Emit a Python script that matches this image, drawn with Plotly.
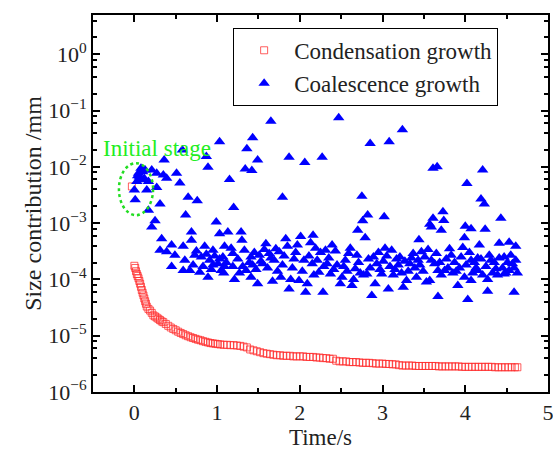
import plotly.graph_objects as go

# ---- Condensation growth (red open squares) ----
cond_t = [-0.03,
    0.00, 0.01, 0.02, 0.03, 0.04, 0.05, 0.06, 0.07, 0.08, 0.09,
    0.10, 0.11, 0.12, 0.13, 0.14, 0.15, 0.17, 0.19, 0.21, 0.23,
    0.25, 0.27, 0.29, 0.31, 0.33, 0.35, 0.38, 0.41, 0.44, 0.47,
    0.50, 0.53, 0.56, 0.59, 0.62, 0.65, 0.68, 0.71, 0.74, 0.77,
    0.80, 0.83, 0.86, 0.89, 0.92, 0.95, 0.98, 1.01, 1.04, 1.08,
    1.12, 1.16, 1.20, 1.24, 1.28, 1.32, 1.36, 1.40, 1.44, 1.48,
    1.52, 1.56, 1.60, 1.64, 1.68, 1.72, 1.76, 1.80, 1.84, 1.88,
    1.92, 1.96, 2.00, 2.04, 2.08, 2.12, 2.16, 2.20, 2.24, 2.28,
    2.32, 2.36, 2.40, 2.44, 2.48, 2.52, 2.56, 2.60, 2.64, 2.68,
    2.72, 2.76, 2.80, 2.84, 2.88, 2.92, 2.96, 3.00, 3.04, 3.08,
    3.12, 3.16, 3.20, 3.24, 3.28, 3.32, 3.36, 3.40, 3.44, 3.48,
    3.52, 3.56, 3.60, 3.64, 3.68, 3.72, 3.76, 3.80, 3.84, 3.88,
    3.92, 3.96, 4.00, 4.04, 4.08, 4.12, 4.16, 4.20, 4.24, 4.28,
    4.32, 4.36, 4.40, 4.44, 4.48, 4.52, 4.56, 4.60, 4.63]
cond_y = [4.5e-3,
    1.75e-4, 1.60e-4, 1.40e-4, 1.25e-4, 1.15e-4, 1.05e-4, 9.4e-5, 8.4e-5, 7.4e-5, 6.5e-5,
    5.8e-5, 5.2e-5, 4.6e-5, 4.1e-5, 3.7e-5, 3.3e-5, 3.0e-5, 2.8e-5, 2.55e-5, 2.3e-5,
    2.2e-5, 2.1e-5, 2.0e-5, 1.9e-5, 1.8e-5, 1.74e-5, 1.62e-5, 1.5e-5, 1.4e-5, 1.32e-5,
    1.25e-5, 1.18e-5, 1.12e-5, 1.07e-5, 1.02e-5, 9.8e-6, 9.4e-6, 9.1e-6, 8.8e-6, 8.5e-6,
    8.3e-6, 8.0e-6, 7.8e-6, 7.6e-6, 7.4e-6, 7.3e-6, 7.2e-6, 7.1e-6, 7.0e-6, 6.9e-6,
    6.9e-6, 6.8e-6, 6.8e-6, 6.7e-6, 6.6e-6, 6.4e-6, 6.2e-6, 5.7e-6, 5.5e-6, 5.3e-6,
    5.1e-6, 4.9e-6, 4.8e-6, 4.7e-6, 4.6e-6, 4.5e-6, 4.5e-6, 4.4e-6, 4.4e-6, 4.4e-6,
    4.3e-6, 4.3e-6, 4.3e-6, 4.3e-6, 4.2e-6, 4.2e-6, 4.2e-6, 4.1e-6, 4.1e-6, 4.0e-6,
    4.0e-6, 3.9e-6, 3.9e-6, 3.6e-6, 3.5e-6, 3.5e-6, 3.5e-6, 3.4e-6, 3.4e-6, 3.4e-6,
    3.35e-6, 3.3e-6, 3.3e-6, 3.3e-6, 3.25e-6, 3.2e-6, 3.2e-6, 3.2e-6, 3.15e-6, 3.15e-6,
    3.1e-6, 3.1e-6, 3.0e-6, 2.95e-6, 2.95e-6, 2.95e-6, 2.95e-6, 2.9e-6, 2.9e-6, 2.9e-6,
    2.9e-6, 2.9e-6, 2.9e-6, 2.9e-6, 2.85e-6, 2.85e-6, 2.85e-6, 2.85e-6, 2.85e-6, 2.85e-6,
    2.85e-6, 2.8e-6, 2.8e-6, 2.8e-6, 2.8e-6, 2.8e-6, 2.8e-6, 2.8e-6, 2.8e-6, 2.8e-6,
    2.8e-6, 2.75e-6, 2.75e-6, 2.75e-6, 2.75e-6, 2.75e-6, 2.75e-6, 2.75e-6, 2.75e-6]

# ---- Coalescence growth (blue triangles) ----
coal_t = [
    0.00, 0.01, 0.03, 0.04, 0.05, 0.06, 0.08, 0.09, 0.10, 0.12,
    0.13, 0.15, 0.17, 0.17, 0.21, 0.21, 0.25, 0.27, 0.27, 0.31,
    0.31, 0.33, 0.35, 0.36, 0.39, 0.39, 0.45, 0.45, 0.49, 0.51,
    0.55, 0.58, 0.59, 0.59, 0.61, 0.62, 0.65, 0.67, 0.69, 0.69,
    0.71, 0.73, 0.75, 0.76, 0.79, 0.81, 0.83, 0.85, 0.87, 0.87,
    0.89, 0.89, 0.91, 0.93, 0.95, 0.95, 0.97, 0.99, 1.01, 1.03,
    1.03, 1.03, 1.05, 1.07, 1.08, 1.09, 1.09, 1.11, 1.13, 1.15,
    1.17, 1.19, 1.19, 1.20, 1.21, 1.25, 1.27, 1.29, 1.30, 1.31,
    1.33, 1.34, 1.35, 1.36, 1.39, 1.41, 1.41, 1.42, 1.43, 1.43,
    1.45, 1.47, 1.49, 1.49, 1.51, 1.53, 1.55, 1.57, 1.59, 1.61,
    1.63, 1.65, 1.65, 1.67, 1.69, 1.71, 1.73, 1.75, 1.77, 1.79,
    1.79, 1.81, 1.83, 1.85, 1.87, 1.87, 1.89, 1.91, 1.93, 1.95,
    1.97, 1.99, 2.01, 2.03, 2.05, 2.06, 2.07, 2.09, 2.11, 2.13,
    2.15, 2.16, 2.17, 2.19, 2.21, 2.23, 2.25, 2.27, 2.28, 2.29,
    2.31, 2.33, 2.35, 2.37, 2.39, 2.41, 2.43, 2.45, 2.47, 2.49,
    2.51, 2.53, 2.55, 2.57, 2.59, 2.61, 2.63, 2.65, 2.67, 2.69,
    2.70, 2.71, 2.73, 2.75, 2.76, 2.77, 2.79, 2.81, 2.82, 2.83,
    2.85, 2.85, 2.87, 2.89, 2.91, 2.93, 2.95, 2.97, 2.99, 3.01,
    3.02, 3.03, 3.05, 3.07, 3.08, 3.09, 3.11, 3.13, 3.15, 3.17,
    3.19, 3.21, 3.23, 3.24, 3.25, 3.27, 3.29, 3.31, 3.33, 3.35,
    3.37, 3.39, 3.41, 3.43, 3.44, 3.45, 3.47, 3.49, 3.51, 3.53,
    3.55, 3.57, 3.57, 3.59, 3.59, 3.61, 3.61, 3.63, 3.65, 3.66,
    3.67, 3.67, 3.69, 3.71, 3.71, 3.73, 3.74, 3.75, 3.77, 3.79,
    3.81, 3.83, 3.85, 3.87, 3.89, 3.91, 3.93, 3.95, 3.97, 3.99,
    3.99, 4.00, 4.01, 4.02, 4.03, 4.05, 4.07, 4.07, 4.07, 4.09,
    4.11, 4.13, 4.15, 4.15, 4.17, 4.19, 4.19, 4.21, 4.21, 4.23,
    4.24, 4.25, 4.27, 4.27, 4.29, 4.31, 4.33, 4.35, 4.37, 4.39,
    4.41, 4.41, 4.43, 4.45, 4.47, 4.47, 4.49, 4.51, 4.53, 4.53,
    4.55, 4.57, 4.59, 4.59, 4.61, 4.61, 4.63]
coal_y = [
    0.0039, 0.0026, 0.0055, 0.0070, 0.0077, 0.0066, 0.0095, 0.0059, 0.0082, 0.0062,
    0.0088, 0.0039, 0.0055, 0.0017, 0.0088, 8.6e-4, 0.0011, 0.0077, 0.0043, 0.0022,
    3.3e-4, 5.3e-4, 0.0072, 0.0133, 0.0063, 3.1e-4, 4.1e-4, 1.7e-4, 2.7e-4, 0.0077,
    0.0052, 0.0200, 3.9e-4, 1.45e-4, 2.2e-4, 0.0014, 0.0029, 1.45e-4, 7.0e-4, 5.0e-4,
    1.8e-4, 2.7e-4, 3.2e-4, 0.0025, 1.35e-4, 2.5e-4, 1.7e-4, 3.9e-4, 0.0153, 2.8e-4,
    0.0099, 1.1e-4, 2.2e-4, 1.5e-4, 3.3e-4, 1.8e-4, 2.6e-4, 0.00105, 1.9e-4, 0.028,
    6.5e-4, 2.3e-4, 1.45e-4, 2.5e-4, 1.3e-4, 3.9e-4, 1.7e-4, 2.0e-4, 7.0e-4, 0.0060,
    3.6e-4, 2.9e-4, 1.7e-4, 0.0019, 1.0e-4, 2.3e-4, 1.3e-4, 7.0e-4, 5.0e-4, 1.7e-4,
    3.3e-4, 0.0092, 1.45e-4, 0.021, 2.0e-4, 2.5e-4, 1.1e-4, 0.0086, 0.033, 1.8e-4,
    3.0e-4, 1.5e-4, 0.0133, 8.4e-5, 2.7e-4, 2.1e-4, 1.9e-4, 3.4e-4, 4.3e-4, 1.6e-4,
    2.9e-4, 0.065, 2.4e-4, 9.3e-5, 2.2e-4, 3.5e-4, 1.4e-4, 3.1e-4, 1.1e-4, 0.0029,
    1.8e-4, 2.6e-4, 5.3e-4, 3.9e-4, 0.0148, 6.8e-5, 1.0e-4, 1.6e-4, 2.3e-4, 3.0e-4,
    4.1e-4, 9.6e-5, 5.8e-4, 1.4e-4, 2.2e-4, 0.012, 5.9e-5, 8.4e-5, 2.6e-4, 4.5e-4,
    1.9e-4, 6.1e-4, 1.2e-4, 3.6e-4, 2.2e-4, 1.35e-4, 3.0e-4, 0.0148, 5.9e-5, 1.7e-4,
    3.3e-4, 1.9e-4, 2.4e-4, 1.25e-4, 4.1e-4, 1.5e-4, 3.2e-4, 1.8e-4, 0.075, 8.4e-5,
    1.1e-4, 1.7e-4, 2.2e-4, 1.4e-4, 2.9e-4, 3.6e-4, 7.8e-5, 1.0e-4, 1.55e-4, 2.7e-4,
    7.5e-4, 2.0e-4, 1.3e-4, 0.0030, 0.0011, 1.2e-4, 5.5e-4, 1.25e-4, 0.0014, 2.3e-4,
    0.026, 1.6e-4, 5.2e-5, 2.5e-4, 8.4e-5, 1.9e-4, 3.0e-4, 1.5e-4, 1.25e-4, 2.1e-4,
    0.0013, 3.6e-4, 2.6e-4, 6.8e-5, 0.028, 1.7e-4, 3.3e-4, 1.2e-4, 1.5e-4, 2.3e-4,
    1.8e-4, 2.5e-4, 1.3e-4, 0.046, 7.3e-5, 2.1e-4, 9.6e-5, 1.4e-4, 1.9e-4, 2.4e-4,
    2.9e-4, 1.6e-4, 1.1e-4, 2.2e-4, 5.1e-4, 1.8e-4, 3.1e-4, 1.4e-4, 2.5e-4, 9.0e-5,
    3.4e-4, 9.6e-4, 9.6e-5, 8.6e-4, 2.2e-4, 0.0095, 0.00122, 1.9e-4, 2.9e-4, 0.0101,
    1.45e-4, 5.0e-5, 2.0e-4, 7.5e-4, 1.2e-4, 0.0016, 0.00112, 1.45e-4, 2.3e-4, 1.6e-4,
    3.5e-4, 2.7e-4, 1.3e-4, 2.0e-4, 1.4e-4, 7.8e-5, 1.6e-4, 2.5e-4, 3.7e-4, 5.5e-4,
    1.1e-4, 8.8e-4, 1.8e-4, 0.0051, 4.4e-5, 3.0e-4, 8.0e-4, 2.2e-4, 9.6e-5, 1.3e-4,
    2.0e-4, 1.6e-4, 2.4e-4, 1.45e-4, 4.1e-4, 0.0027, 2.3e-4, 0.0088, 1.2e-4, 0.0022,
    7.8e-4, 1.7e-4, 1.0e-4, 6.2e-5, 2.7e-4, 2.2e-4, 1.3e-4, 2.0e-4, 1.55e-4, 1.2e-4,
    4.4e-4, 2.4e-4, 0.00122, 1.6e-4, 2.5e-4, 1.25e-4, 1.3e-4, 2.0e-4, 4.6e-4, 1.45e-4,
    2.7e-4, 1.9e-4, 5.9e-5, 1.6e-4, 3.9e-4, 2.2e-4, 1.3e-4]

# ---- Tick labels ----
y_tickvals = [1e-6, 1e-5, 1e-4, 1e-3, 1e-2, 1e-1, 1e0]
y_ticktext = ["10<sup>\u22126</sup>", "10<sup>\u22125</sup>", "10<sup>\u22124</sup>",
              "10<sup>\u22123</sup>", "10<sup>\u22122</sup>", "10<sup>\u22121</sup>",
              "10<sup>0</sup>"]
y_minor = [m * 10.0 ** e for e in range(-6, 1) for m in (2, 4, 6, 8)]
x_tickvals = [0, 1, 2, 3, 4, 5]

FONT = "Liberation Serif, Times New Roman, serif"

fig = go.Figure()
fig.add_trace(go.Scatter(
    x=cond_t, y=cond_y, mode="markers", name="Condensation growth",
    marker=dict(symbol="square-open", size=7, color="rgba(255,40,40,0.75)",
                line=dict(width=1))))
fig.add_trace(go.Scatter(
    x=coal_t, y=coal_y, mode="markers", name="Coalescence growth",
    marker=dict(symbol="triangle-up", size=10, color="#0000ff")))

axis_common = dict(showgrid=False, zeroline=False, showline=True, linecolor="black",
                   linewidth=2, mirror="ticks", ticks="inside", tickcolor="black",
                   tickwidth=2, ticklen=7, automargin=False,
                   ticklabeloverflow="allow",
                   tickfont=dict(family=FONT, size=22, color="#222"))

fig.update_xaxes(range=[-0.5, 5], tickvals=x_tickvals,
                 minor=dict(ticks="inside", dtick=0.5, tick0=0, ticklen=4,
                            tickcolor="black", tickwidth=2),
                 title=dict(text="Time/s", font=dict(family=FONT, size=23, color="#222"),
                            standoff=0),
                 **axis_common)
fig.update_yaxes(type="log", range=[-6, 0.7], tickvals=y_tickvals, ticktext=y_ticktext,
                 minor=dict(ticks="inside", tickmode="array", tickvals=y_minor,
                            ticklen=4, tickcolor="black", tickwidth=2),
                 title=dict(text="Size contribution /mm",
                            font=dict(family=FONT, size=24, color="#222"), standoff=0),
                 **axis_common)

fig.add_shape(type="circle", xref="paper", yref="paper",
              x0=0.057, x1=0.132, y0=0.469, y1=0.607,
              line=dict(color="#22dd22", width=2.5, dash="dot"))
fig.add_annotation(text="Initial stage", xref="paper", yref="paper",
                   x=0.141, y=0.647, xanchor="center", yanchor="middle",
                   showarrow=False,
                   font=dict(family=FONT, size=23, color="#22ee22"))

fig.update_layout(
    width=553, height=451,
    margin=dict(l=93, r=5, t=15, b=59),
    paper_bgcolor="white", plot_bgcolor="white",
    legend=dict(x=0.308, y=0.966, xanchor="left", yanchor="top",
                bordercolor="black", borderwidth=1, bgcolor="white",
                font=dict(family=FONT, size=23, color="#222"),
                itemwidth=50, tracegroupgap=0),
)

fig.write_html("out.html", config={"displayModeBar": False},
               post_script="document.body.style.margin='0px';document.body.style.overflow='hidden';")
